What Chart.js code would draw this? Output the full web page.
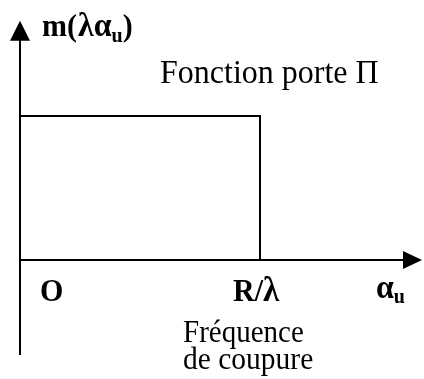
<!DOCTYPE html>
<html>
<head>
<meta charset="utf-8">
<script src="https://cdn.jsdelivr.net/npm/chart.js@4"></script>
<style>
  body { margin: 0; background: #fff; }
  #wrap { width: 424px; height: 379px; }
</style>
</head>
<body>
<div id="wrap"><canvas id="porte-chart" width="424" height="379"></canvas></div>
<script>
// fonction porte : 1 entre 0 et R/lambda, 0 au dela
var gateX = [0, 1, 1];
var gateY = [1, 1, 0];
var xAxisRange = [0, 1.6];     // axe des alpha_u
var yAxisRange = [-0.66, 1.53]; // axe m(lambda alpha_u)
var cutoffX = 1;               // R/lambda

var gatePoints = gateX.map(function (x, i) { return { x: x, y: gateY[i] }; });

var SERIF = '"Liberation Serif", "Times New Roman", serif';

function txt(ctx, s, x, y, size, bold) {
    ctx.font = (bold ? 'bold ' : '') + size + 'px ' + SERIF;
    ctx.fillText(s, x, y);
    return x + ctx.measureText(s).width;
}

var axesPlugin = {
    id: 'axes',
    afterDatasetsDraw: function (chart) {
        var ctx = chart.ctx;
        var xs = chart.scales.x, ys = chart.scales.y;
        var x0 = xs.getPixelForValue(0), y0 = ys.getPixelForValue(0);
        var xEnd = xs.getPixelForValue(xAxisRange[1]);
        var yTop = ys.getPixelForValue(yAxisRange[1]);
        var yBot = ys.getPixelForValue(yAxisRange[0]);
        ctx.save();
        ctx.strokeStyle = '#000';
        ctx.fillStyle = '#000';
        ctx.lineWidth = 2;
        // axe vertical
        ctx.beginPath();
        ctx.moveTo(x0, yBot);
        ctx.lineTo(x0, yTop);
        ctx.stroke();
        ctx.beginPath();
        ctx.moveTo(x0 - 10, yTop + 1);
        ctx.lineTo(x0 + 10, yTop + 1);
        ctx.lineTo(x0, yTop - 19);
        ctx.closePath();
        ctx.fill();
        // axe horizontal
        ctx.beginPath();
        ctx.moveTo(x0, y0);
        ctx.lineTo(xEnd, y0);
        ctx.stroke();
        ctx.beginPath();
        ctx.moveTo(xEnd - 1, y0 - 9);
        ctx.lineTo(xEnd - 1, y0 + 9);
        ctx.lineTo(xEnd + 18, y0);
        ctx.closePath();
        ctx.fill();

        // textes (legerement etires verticalement comme l'original)
        ctx.textBaseline = 'alphabetic';
        ctx.textAlign = 'left';
        function stretched(y, fn) {
            ctx.save();
            ctx.translate(0, y);
            ctx.scale(1, 1.06);
            fn();
            ctx.restore();
        }
        stretched(36, function () {
            var x = txt(ctx, 'm(', 42, 0, 30, true);
            x = txt(ctx, 'λα', x + 1, 0, 32, true);
            x = txt(ctx, 'u', x, 6, 20, true);
            txt(ctx, ')', x, 0, 30, true);
        });
        stretched(83, function () { txt(ctx, 'Fonction porte Π', 160, 0, 32, false); });
        stretched(301, function () { txt(ctx, 'O', 40, 0, 30, true); });
        var xc = xs.getPixelForValue(cutoffX);
        stretched(301, function () {
            var x = txt(ctx, 'R/', xc - 27, 0, 30, true);
            txt(ctx, 'λ', x, 0, 33, true);
        });
        stretched(298, function () {
            var x = txt(ctx, 'α', 376, 0, 32, true);
            txt(ctx, 'u', x, 5, 20, true);
        });
        stretched(342, function () { txt(ctx, 'Fréquence', 183, 0, 29, false); });
        stretched(369, function () { txt(ctx, 'de coupure', 183, 0, 29.5, false); });
        ctx.restore();
    }
};

var porteChart = new Chart(document.getElementById('porte-chart'), {
    type: 'line',
    data: {
        datasets: [{
            data: gatePoints,
            borderColor: '#000',
            borderWidth: 2,
            pointRadius: 0,
            tension: 0,
            fill: false,
            clip: false,
        }]
    },
    options: {
        responsive: false,
        animation: false,
        events: [],
        layout: { padding: { left: 20, right: 20, top: 44, bottom: 119 } },
        plugins: { legend: { display: false }, tooltip: { enabled: false } },
        scales: {
            x: { type: 'linear', min: xAxisRange[0], max: xAxisRange[1], display: false },
            y: { min: 0, max: 1.5, display: false },
        },
    },
    plugins: [axesPlugin],
});
</script>
</body>
</html>
